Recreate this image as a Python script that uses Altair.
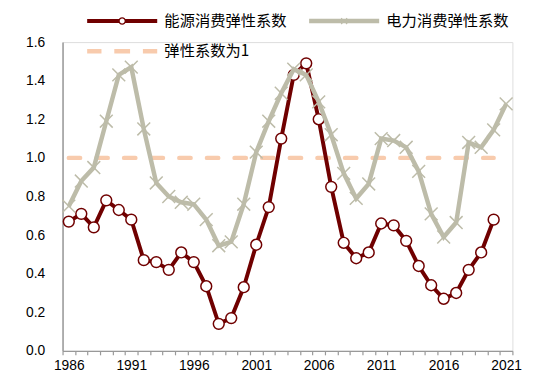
import altair as alt
import pandas as pd

years = list(range(1986, 2022))
energy_years = list(range(1986, 2021))
energy = [0.67, 0.71, 0.64, 0.78, 0.73, 0.68, 0.47, 0.46, 0.42, 0.51,
          0.46, 0.335, 0.14, 0.17, 0.33, 0.55, 0.745, 1.10, 1.43, 1.49,
          1.20, 0.85, 0.56, 0.48, 0.51, 0.66, 0.65, 0.57, 0.44, 0.34,
          0.27, 0.30, 0.42, 0.51, 0.68]
elec_years = list(range(1986, 2022))
elec = [0.75, 0.88, 0.95, 1.19, 1.43, 1.47, 1.15, 0.87, 0.80, 0.77,
        0.76, 0.68, 0.545, 0.565, 0.76, 1.03, 1.19, 1.335, 1.46, 1.43,
        1.29, 1.12, 0.92, 0.79, 0.865, 1.10, 1.09, 1.055, 0.93, 0.71,
        0.59, 0.665, 1.08, 1.055, 1.145, 1.28]
ref_years = list(range(1986, 2021))
ref = [1.0] * len(ref_years)
y_ticks = [0.0, 0.2, 0.4, 0.6, 0.8, 1.0, 1.2, 1.4, 1.6]

series_names = ["能源消费弹性系数", "电力消费弹性系数", "弹性系数为1"]
colors = ["#700000", "#BDBCA9", "#F8CBAD"]

df_energy = pd.DataFrame({"year": energy_years, "value": energy, "series": series_names[0]})
df_elec = pd.DataFrame({"year": elec_years, "value": elec, "series": series_names[1]})
df_ref = pd.DataFrame({"year": ref_years, "value": ref, "series": series_names[2]})
df_all = pd.concat([df_energy, df_elec, df_ref], ignore_index=True)

# legend symbol paths (unit = sqrt(symbolSize)/2 px)
p_energy = ("M-7.1,-0.4H-0.6V0.4H-7.1Z M0.6,-0.4H7.1V0.4H0.6Z "
            "M0.76,0A0.76,0.76,0,1,1,-0.76,0A0.76,0.76,0,1,1,0.76,0Z "
            "M0.5,0A0.5,0.5,0,1,0,-0.5,0A0.5,0.5,0,1,0,0.5,0Z")
p_elec = ("M-7.1,-0.45H7.1V0.45H-7.1Z "
          "M-0.515,-0.685L0.685,0.515L0.515,0.685L-0.685,-0.515Z "
          "M-0.685,0.515L0.515,-0.685L0.685,-0.515L-0.515,0.685Z")
p_ref = ("M-7.1,-0.45H-4.2V0.45H-7.1Z M-1.6,-0.45H1.6V0.45H-1.6Z "
         "M4.2,-0.45H7.1V0.45H4.2Z")

xscale = alt.Scale(type="band", domain=years, paddingInner=0, paddingOuter=0)
yscale = alt.Scale(domain=[0, 1.6], nice=False, zero=True)

x_axis = alt.Axis(
    title=None, grid=False, labelAngle=0,
    labelExpr="(toNumber(datum.value) - 1986) % 5 === 0 ? datum.label : ''",
    tickBand="extent", ticks=True, tickSize=4, tickColor="#999999", tickWidth=1.2,
    domainColor="#999999", domainWidth=1.5,
    labelFont="Liberation Sans", labelFontSize=14, labelColor="#000000",
    labelPadding=4, labelFlush=False, labelOverlap=False,
)
y_axis = alt.Axis(
    title=None, grid=False, values=y_ticks,
    format=".1f", ticks=False, labelOverlap=False, labelFlush=False,
    labelSeparation=0,
    domainColor="#999999", domainWidth=1.5,
    labelFont="Liberation Sans", labelFontSize=14, labelColor="#000000",
    labelPadding=18,
)

X = alt.X("year:O", scale=xscale, bandPosition=0.5, axis=x_axis)
Y = alt.Y("value:Q", scale=yscale, axis=y_axis)

color_scale = alt.Scale(domain=series_names, range=colors)
shape_scale = alt.Scale(domain=series_names, range=[p_energy, p_elec, p_ref])

legend = alt.Legend(
    title=None, orient="none", legendX=24.7, legendY=-29.5, direction="horizontal",
    columns=2, columnPadding=22, rowPadding=14, padding=0,
    symbolSize=100, symbolStrokeWidth=0, symbolOffset=28, symbolOpacity=1,
    labelOffset=35, labelFont="Noto Sans CJK SC", labelFontSize=15.5,
    labelColor="#000000", labelLimit=400,
)

carrier = alt.Chart(df_all).mark_point(filled=True, opacity=0).encode(
    x=X, y=Y,
    color=alt.Color("series:N", scale=color_scale, legend=legend),
    shape=alt.Shape("series:N", scale=shape_scale, legend=legend),
)

ref_line = alt.Chart(df_ref).mark_line(
    strokeWidth=4.5, strokeDash=[11.5, 16.5], strokeCap="round").encode(
    x=X, y=Y, color=alt.Color("series:N", scale=color_scale, legend=None))

energy_line = alt.Chart(df_energy).mark_line(strokeWidth=4).encode(
    x=X, y=Y, color=alt.Color("series:N", scale=color_scale, legend=None))
energy_pts = alt.Chart(df_energy).mark_point(
    shape="circle", filled=True, fill="white", stroke=colors[0],
    strokeWidth=1.5, size=121, opacity=1).encode(x=X, y=Y)

elec_line = alt.Chart(df_elec).mark_line(strokeWidth=4.5).encode(
    x=X, y=Y, color=alt.Color("series:N", scale=color_scale, legend=None))
elec_pts = alt.Chart(df_elec).mark_point(
    shape="M-1,-1L1,1M-1,1L1,-1", filled=False, stroke=colors[1],
    strokeWidth=1.5, size=169, opacity=1).encode(x=X, y=Y)

chart = alt.layer(
    carrier, ref_line, energy_line, energy_pts, elec_line, elec_pts
).properties(
    width=456, height=313,
    autosize="none",
    padding={"left": 55.3, "top": 32, "right": 30, "bottom": 30},
).configure_view(stroke=None).configure(background="white").configure_axisY(
    labelOverlap=False, tickCount=9
)

chart.save("out.html", embed_options={"renderer": "svg", "actions": False})
